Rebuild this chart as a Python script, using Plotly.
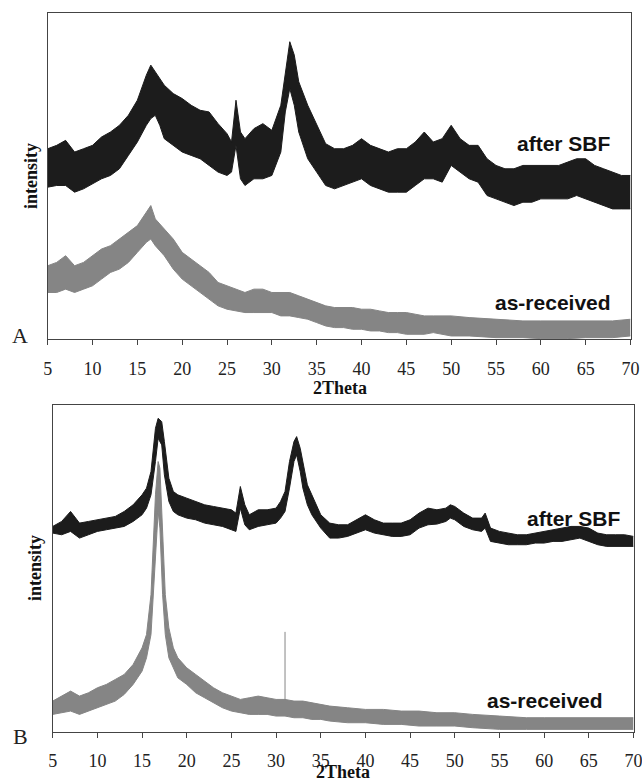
import plotly.graph_objects as go

# ---------------- Panel A (arbitrary intensity units) ----------------
a_sbf_x = [5, 6, 7, 8, 9, 10, 11, 12, 13, 14, 15, 16, 16.5, 17, 17.5, 18, 19, 20, 21, 22, 23, 24, 25,
           25.5, 26, 26.5, 27, 28, 29, 30, 31, 31.5, 32, 32.5,
           33, 34, 35, 36, 37, 38, 39, 40, 41, 42, 43, 44, 45, 46, 47, 48, 49, 50, 51, 52, 53, 54, 55,
           56, 57, 58, 59, 60, 61, 62, 63, 64, 65, 66, 67, 68, 69, 70]
a_sbf_hi = [570, 580, 595, 560, 570, 580, 605, 620, 640, 670, 715, 790, 820, 800, 780, 760, 735, 720, 700,
            685, 680, 645, 615, 590, 715, 620, 600, 630, 645, 625, 700, 800, 890, 850,
            770, 700, 640, 585, 570, 570, 580, 600, 580, 570, 560, 570, 570, 590, 620, 590, 600, 640, 600,
            580, 580, 540, 520, 510, 510, 520, 520, 520, 520, 520, 530, 540, 540, 520, 510, 500, 490, 490]
a_sbf_lo = [455, 460, 460, 440, 450, 465, 480, 490, 510, 550, 590, 640, 660, 670, 640, 600, 580, 560, 550,
            540, 520, 500, 490, 500, 580, 480, 460, 480, 480, 490, 560, 680, 750, 700,
            620, 540, 500, 460, 450, 460, 470, 480, 460, 450, 440, 440, 440, 460, 480, 480, 470, 520, 500,
            480, 470, 430, 420, 410, 400, 410, 410, 420, 420, 420, 420, 430, 420, 410, 400, 390, 390, 390]

a_rec_x = [5, 6, 7, 8, 9, 10, 11, 12, 13, 14, 15, 16, 16.5, 17, 18, 19, 20, 21, 22, 23, 24, 25, 26, 27,
           28, 29, 30, 31, 32, 33, 34, 35, 36, 37, 38, 39, 40, 41, 42, 43, 44, 45, 46, 47, 48, 50, 52,
           55, 58, 60, 63, 65, 68, 70]
a_rec_hi = [220, 230, 250, 220, 230, 250, 270, 280, 300, 320, 340, 380, 400, 360, 330, 300, 260, 240,
            220, 200, 170, 160, 150, 140, 150, 150, 140, 140, 140, 130, 120, 110, 100, 95, 95, 95, 90,
            90, 85, 80, 80, 80, 75, 70, 70, 70, 65, 60, 55, 55, 55, 55, 55, 60]
a_rec_lo = [140, 140, 150, 140, 150, 160, 180, 200, 210, 230, 260, 290, 300, 280, 250, 210, 180, 160,
            140, 120, 100, 90, 85, 80, 80, 80, 80, 70, 70, 65, 60, 50, 40, 35, 35, 30, 30, 25, 25, 20,
            20, 15, 15, 15, 20, 10, 10, 5, 5, 2, 2, 5, 5, 10]

# ---------------- Panel B ----------------
b_sbf_x = [5, 6, 7, 8, 9, 10, 11, 12, 13, 14, 15, 15.5, 16, 16.5, 16.8, 17.2, 17.5, 18, 18.5, 19, 20,
           21, 22, 23, 24, 25, 25.5, 26, 26.5, 27, 28, 29, 30, 30.5, 31, 31.5, 32, 32.3, 32.7, 33,
           33.5, 34, 35, 36, 37, 38, 39, 40, 41, 42, 43, 44, 45, 46, 47, 48, 49, 49.5, 50, 51, 52,
           53, 53.4, 54, 55, 56, 57, 58, 59, 60, 61, 62, 63, 64, 65, 66, 67, 68, 69, 70]
b_sbf_hi = [617, 632, 662, 627, 632, 637, 642, 647, 662, 682, 712, 732, 782, 912, 942, 932, 872, 762,
            722, 712, 702, 692, 682, 677, 672, 667, 657, 737, 682, 652, 667, 667, 672, 692, 722, 812,
            872, 887, 852, 812, 742, 712, 652, 627, 622, 622, 637, 652, 637, 627, 627, 627, 637, 657,
            672, 667, 672, 682, 677, 657, 642, 642, 657, 612, 602, 597, 592, 592, 597, 602, 607, 612,
            617, 617, 612, 597, 592, 592, 592, 587]
b_sbf_lo = [597, 592, 602, 582, 592, 602, 607, 612, 617, 632, 652, 672, 712, 812, 882, 862, 772, 692,
            662, 652, 642, 637, 627, 622, 617, 607, 602, 672, 622, 607, 617, 622, 627, 642, 662, 732,
            812, 832, 782, 732, 682, 652, 612, 582, 582, 587, 597, 607, 597, 592, 587, 587, 592, 612,
            622, 624, 632, 642, 637, 617, 607, 602, 612, 572, 567, 562, 562, 562, 567, 567, 572, 572,
            577, 582, 572, 562, 557, 557, 557, 557]

b_rec_x = [5, 6, 7, 8, 9, 10, 11, 12, 13, 14, 15, 15.5, 16, 16.5, 16.8, 17, 17.3, 17.6, 18, 18.5, 19,
           20, 21, 22, 23, 24, 25, 26, 27, 28, 29, 30, 31, 32, 33, 34, 35, 36, 38, 40, 42, 44, 46, 48,
           50, 52, 55, 58, 60, 63, 66, 70]
b_rec_hi = [92, 107, 122, 107, 117, 132, 142, 157, 172, 202, 252, 292, 412, 712, 812, 792, 612, 412,
            312, 252, 222, 192, 172, 152, 132, 117, 107, 97, 102, 107, 102, 97, 97, 92, 92, 87, 82, 77,
            72, 67, 67, 62, 62, 57, 57, 52, 47, 42, 42, 42, 42, 42]
b_rec_lo = [52, 57, 62, 52, 62, 72, 82, 92, 112, 142, 182, 222, 292, 512, 662, 612, 412, 292, 222, 192,
            162, 142, 117, 102, 87, 72, 62, 57, 52, 52, 52, 47, 47, 42, 42, 37, 37, 32, 27, 27, 22, 22,
            17, 17, 17, 12, 7, 7, 7, 7, 7, 7]
b_rec_spike_x = [31.0]
b_rec_spike_top = [300]
b_rec_spike_base = [47]

for xs, hi, lo in [(a_sbf_x, a_sbf_hi, a_sbf_lo), (a_rec_x, a_rec_hi, a_rec_lo),
                   (b_sbf_x, b_sbf_hi, b_sbf_lo), (b_rec_x, b_rec_hi, b_rec_lo)]:
    assert len(xs) == len(hi) == len(lo)

x_ticks = list(range(5, 71, 5))
DARK = "#1c1c1c"
GRAY = "#858585"
SERIF = "Liberation Serif, Times New Roman, serif"
SANS = "Liberation Sans, Arial, sans-serif"

fig = go.Figure()


def band(xs, hi, lo, color, xa, ya):
    fig.add_trace(go.Scatter(x=xs, y=hi, mode="lines", line=dict(color=color, width=1),
                             xaxis=xa, yaxis=ya, showlegend=False, hoverinfo="skip"))
    fig.add_trace(go.Scatter(x=xs, y=lo, mode="lines", line=dict(color=color, width=1),
                             fill="tonexty", fillcolor=color,
                             xaxis=xa, yaxis=ya, showlegend=False, hoverinfo="skip"))


band(a_rec_x, a_rec_hi, a_rec_lo, GRAY, "x", "y")
band(a_sbf_x, a_sbf_hi, a_sbf_lo, DARK, "x", "y")
band(b_rec_x, b_rec_hi, b_rec_lo, GRAY, "x2", "y2")
band(b_sbf_x, b_sbf_hi, b_sbf_lo, DARK, "x2", "y2")
for sx, st, sb in zip(b_rec_spike_x, b_rec_spike_top, b_rec_spike_base):
    fig.add_trace(go.Scatter(x=[sx, sx], y=[sb, st], mode="lines", line=dict(color=GRAY, width=1),
                             xaxis="x2", yaxis="y2", showlegend=False, hoverinfo="skip"))

xcommon = dict(range=[5, 70], tickmode="array", tickvals=x_ticks, ticktext=[str(t) for t in x_ticks],
               ticks="outside", ticklen=5, tickwidth=1, tickcolor="#444",
               showline=True, linecolor="#444", linewidth=1, mirror=True,
               showgrid=False, zeroline=False, automargin=False, ticklabelstandoff=8,
               ticklabeloverflow="allow",
               tickfont=dict(family=SERIF, size=18, color="#222"))
ycommon = dict(showticklabels=False, ticks="", showline=True, linecolor="#444", linewidth=1,
               mirror=True, showgrid=False, zeroline=False, automargin=False)

W, H = 642, 782
fig.update_layout(
    width=W, height=H, margin=dict(l=0, r=0, t=0, b=0),
    paper_bgcolor="white", plot_bgcolor="white",
    xaxis=dict(domain=[47.7 / W, 630.5 / W], anchor="y", **xcommon),
    yaxis=dict(domain=[(H - 339.3) / H, (H - 13.3) / H], anchor="x", range=[0, 975], **ycommon),
    xaxis2=dict(domain=[52.7 / W, 633.5 / W], anchor="y2", **xcommon),
    yaxis2=dict(domain=[(H - 731.7) / H, (H - 405) / H], anchor="x2", range=[0, 982], **ycommon),
)

ann = []
# axis titles
for xc, yc in [(339.5, 388), (343, 772)]:
    ann.append(dict(text="2Theta", x=xc / W, y=(H - yc) / H, xref="paper", yref="paper",
                    showarrow=False, xanchor="center", yanchor="middle",
                    font=dict(family=SERIF, size=18, color="#111", weight="bold")))
for xc, yc in [(31, 176), (35, 568)]:
    ann.append(dict(text="intensity", x=xc / W, y=(H - yc) / H, xref="paper", yref="paper",
                    showarrow=False, textangle=-90, xanchor="center", yanchor="middle",
                    font=dict(family=SERIF, size=18, color="#111", weight="bold")))
# panel letters
for t, xc, yc in [("A", 20, 336), ("B", 21, 736)]:
    ann.append(dict(text=t, x=xc / W, y=(H - yc) / H, xref="paper", yref="paper",
                    showarrow=False, xanchor="center", yanchor="middle",
                    font=dict(family=SERIF, size=22, color="#222")))
# series labels
for t, xr, yc in [("after SBF", 613, 143), ("as-received", 613, 303),
                  ("after SBF", 623, 518), ("as-received", 605, 700)]:
    ann.append(dict(text=t, x=xr / W, y=(H - yc) / H, xref="paper", yref="paper",
                    showarrow=False, xanchor="right", yanchor="middle",
                    font=dict(family=SANS, size=21, color="#111", weight="bold")))
fig.update_layout(annotations=ann)

fig.write_html("out.html", config={"displayModeBar": False},
               post_script="document.body.style.margin='0';document.body.style.overflow='hidden';")
